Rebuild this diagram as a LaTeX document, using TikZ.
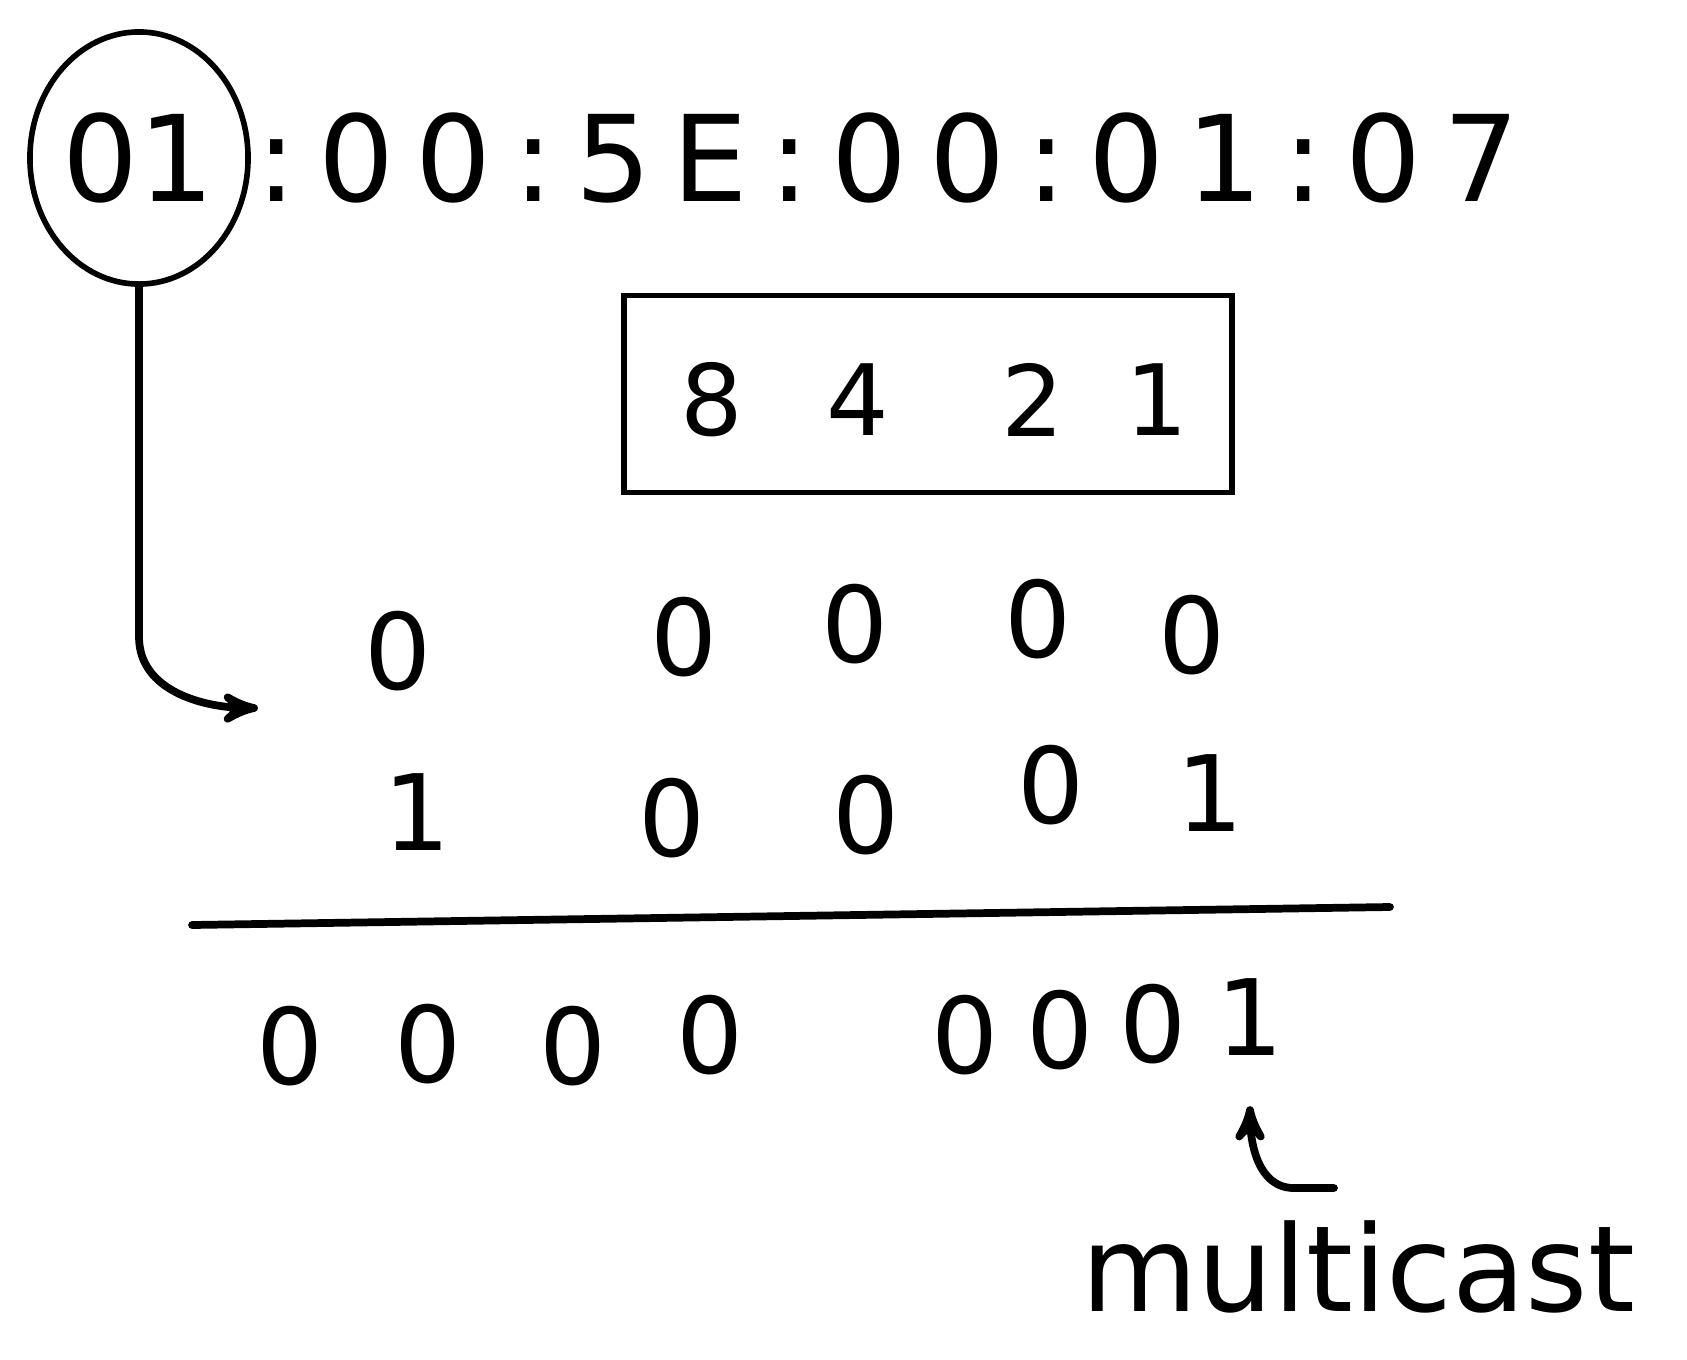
\documentclass[tikz,border=0pt]{standalone}
\usepackage{fontspec}
\newfontfamily\hand{DejaVu Sans}
\newfontfamily\handwide[LetterSpace=18.0]{DejaVu Sans}
\usetikzlibrary{arrows,positioning,shapes.geometric}
\tikzstyle{digit}=[font=\hand\fontsize{30}{36}\selectfont,inner sep=0pt]
\tikzstyle{pen}=[line width=2.2pt,line cap=round,line join=round]
\tikzstyle{thinpen}=[line width=1.6pt]

\begin{document}
\begin{tikzpicture}[x=0.01cm,y=-0.01cm,node distance=0.1cm,>=stealth']
  \useasboundingbox (0,0) rectangle (1687,1360);
  % address
  \node[ellipse,draw,thinpen,digit,font=\hand\fontsize{34}{40}\selectfont,
        minimum width=2.18cm,minimum height=2.52cm] (hex01) at (139,158) {01};
  \node[digit,font=\handwide\fontsize{34}{40}\selectfont] (hexrest) [right=0.05cm of hex01] {:00:5E:00:01:07};
  % weights
  \node[draw,thinpen,minimum width=6.08cm,minimum height=1.97cm] (weights) at (928,394) {};
  \foreach \x/\w in {712/8,858/4,1033/2,1157/1}
    \node[digit,font=\hand\fontsize{28}{34}\selectfont] (w\w) at (\x,400) {\w};
  % rows
  \node[digit] (r1a) at (398,651) {0};
  \foreach \x/\y/\n in {684/637/b,855/624/c,1038/619/d,1192/635/e}
    \node[digit] (r1\n) at (\x,\y) {0};
  \foreach \x/\y/\n/\d in {417/812/a/1,672/818/b/0,866/815/c/0,1051/785/d/0,1210/793/e/1}
    \node[digit] (r2\n) at (\x,\y) {\d};
  \coordinate (ruleL) at (192,925);
  \coordinate (ruleR) at (1390,907);
  \draw[pen] (ruleL) -- (ruleR);
  \foreach \x/\y/\n/\d in {290/1046/1/0,428/1044/2/0,573/1046/3/0,710/1035/4/0,
                          965/1035/5/0,1060/1030/6/0,1153/1024/7/0,1250/1017/8/1}
    \node[digit] (sum\n) at (\x,\y) {\d};
  \node[digit,font=\hand\fontsize{34}{40}\selectfont] (mcast) at (1358,1267) {multicast};
  % arrows
  \coordinate (bitin) at ([xshift=-1.4cm,yshift=-0.57cm]r1a.center);
  \coordinate (mctail) at ([xshift=-0.24cm,yshift=0.32cm]mcast.north);
  \draw[pen,->] (hex01.south) -- ++(0,350) to[out=-90,in=180] (bitin);
  \draw[pen,->] (mctail) -- ++(-40,0) to[out=180,in=-90] ([yshift=-0.5cm]sum8.south);
\end{tikzpicture}
\end{document}
